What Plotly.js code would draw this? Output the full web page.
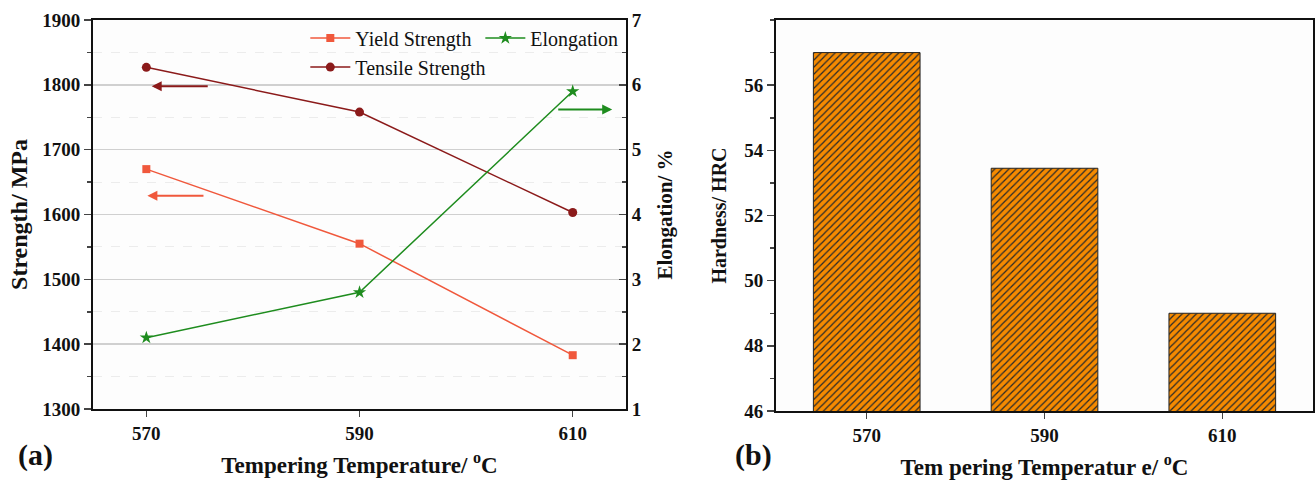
<!DOCTYPE html>
<html><head><meta charset="utf-8">
<script src="https://cdn.plot.ly/plotly-3.0.1.min.js"></script>
<style>body{margin:0;background:#fff}#c{width:1316px;height:489px}</style>
</head><body><div id="c"></div>
<script>
const temps = [570, 590, 610];
const tempLabels = ['570', '590', '610'];
const yieldStrength = [1670, 1555, 1383];
const tensileStrength = [1827, 1758, 1603];
const elongation = [2.1, 2.8, 5.9];
const hardness = [57.0, 53.45, 49.0];

const F = 'Liberation Serif, Times New Roman, serif';
const traces = [
  {x: temps, y: yieldStrength, name: 'Yield Strength', type: 'scatter', mode: 'lines+markers',
   xaxis: 'x', yaxis: 'y', line: {color: '#F0583C', width: 1.5}, marker: {symbol: 'square', size: 8, color: '#F0583C'}, legend: 'legend'},
  {x: temps, y: tensileStrength, name: 'Tensile Strength', type: 'scatter', mode: 'lines+markers',
   xaxis: 'x', yaxis: 'y', line: {color: '#8B1A1A', width: 1.5}, marker: {symbol: 'circle', size: 9, color: '#8B1A1A'}, legend: 'legend'},
  {x: temps, y: elongation, name: 'Elongation', type: 'scatter', mode: 'lines+markers',
   xaxis: 'x', yaxis: 'y2', line: {color: '#1E8C1E', width: 1.5}, marker: {symbol: 'star', size: 10, color: '#1E8C1E'}, legend: 'legend2'},
  {x: tempLabels, y: hardness, type: 'bar', xaxis: 'x3', yaxis: 'y3', width: 0.6, showlegend: false,
   marker: {color: '#F58A00', line: {color: '#222', width: 1},
     pattern: {shape: '/', fgcolor: '#2a2a2a', bgcolor: '#F58A00', size: 5, solidity: 0.25}}}
];

const tickFont = {family: F, size: 19, color: '#111', weight: 'bold'};
const tf = s => ({family: F, size: s, color: '#111', weight: 'bold'});
const b = s => '<b>' + s + '</b>';

const layout = {
  width: 1316, height: 489,
  margin: {l: 0, r: 0, t: 0, b: 0},
  paper_bgcolor: '#fff', plot_bgcolor: '#fdfdfd',
  font: {family: F},
  xaxis: {domain: [0.0707, 0.4757], range: [565, 615], tickvals: temps, ticktext: tempLabels.map(b),
    ticks: 'outside', ticklen: 6, tickwidth: 1.5, showline: true, linewidth: 2, linecolor: '#111', mirror: true,
    showgrid: false, zeroline: false, tickfont: tickFont, anchor: 'y',
    title: {text: b('Tempering Temperature/ <sup>o</sup>C'), font: tf(23), standoff: 14}},
  yaxis: {domain: [0.1636, 0.9591], range: [1300, 1900], tickvals: [1300,1400,1500,1600,1700,1800,1900],
    ticktext: ['1300','1400','1500','1600','1700','1800','1900'].map(b), ticks: 'outside', ticklen: 7, tickwidth: 1.5,
    minor: {dtick: 50, ticks: 'outside', ticklen: 4, showgrid: true, gridcolor: '#ececec', griddash: 'dash', gridwidth: 1},
    showline: true, linewidth: 2, linecolor: '#111', showgrid: true, gridcolor: '#d0d0d0', gridwidth: 1.5,
    zeroline: false, tickfont: tickFont, anchor: 'x',
    title: {text: b('Strength/ MPa'), font: tf(24), standoff: 8}},
  yaxis2: {overlaying: 'y', side: 'right', anchor: 'x', range: [1, 7], tickvals: [1,2,3,4,5,6,7],
    ticktext: ['1','2','3','4','5','6','7'].map(b), ticks: 'inside', ticklen: 7, tickwidth: 1.5,
    minor: {dtick: 0.5, ticks: 'inside', ticklen: 4}, showline: true, linewidth: 2, linecolor: '#111',
    showgrid: false, zeroline: false, tickfont: tickFont,
    title: {text: b('Elongation/ %'), font: tf(21), standoff: 16}},
  xaxis3: {domain: [0.5897, 0.9977], anchor: 'y3', type: 'category', range: [-0.51, 2.51],
    tickvals: tempLabels, ticktext: tempLabels.map(b),
    ticks: 'outside', ticklen: 6, tickwidth: 1.5, showline: true, linewidth: 2, linecolor: '#111', mirror: true,
    showgrid: false, tickfont: tickFont,
    title: {text: b('Tem pering Temperatur e/ <sup>o</sup>C'), font: tf(23), standoff: 14}},
  yaxis3: {domain: [0.1595, 0.9591], anchor: 'x3', range: [46, 58], tickvals: [46, 48, 50, 52, 54, 56],
    ticktext: ['46','48','50','52','54','56'].map(b),
    ticks: 'outside', ticklen: 7, tickwidth: 1.5, minor: {dtick: 1, ticks: 'outside', ticklen: 4},
    showline: true, linewidth: 2, linecolor: '#111', mirror: true, showgrid: false, zeroline: false,
    tickfont: tickFont, title: {text: b('Hardness/ HRC'), font: tf(20), standoff: 12}},
  legend: {x: 0.232, y: 0.962, xanchor: 'left', yanchor: 'top', bgcolor: 'rgba(0,0,0,0)',
    font: {family: F, size: 20, color: '#111'}, tracegroupgap: 0, itemwidth: 40},
  legend2: {x: 0.365, y: 0.962, xanchor: 'left', yanchor: 'top', bgcolor: 'rgba(0,0,0,0)',
    font: {family: F, size: 20, color: '#111'}, itemwidth: 40},
  annotations: [
    {x: 570.5, y: 1798, ax: 575.9, ay: 1798, xref: 'x', yref: 'y', axref: 'x', ayref: 'y', text: '',
     showarrow: true, arrowhead: 2, arrowsize: 1, arrowwidth: 2, arrowcolor: '#8B1A1A'},
    {x: 570.1, y: 1629, ax: 575.5, ay: 1629, xref: 'x', yref: 'y', axref: 'x', ayref: 'y', text: '',
     showarrow: true, arrowhead: 2, arrowsize: 1, arrowwidth: 2, arrowcolor: '#F0583C'},
    {x: 613.7, y: 5.62, ax: 608.5, ay: 5.62, xref: 'x', yref: 'y2', axref: 'x', ayref: 'y2', text: '',
     showarrow: true, arrowhead: 2, arrowsize: 1, arrowwidth: 2, arrowcolor: '#1E8C1E'},
    {x: 16 / 1316, y: 1 - 455 / 489, xref: 'paper', yref: 'paper', text: b('(a)'), showarrow: false,
     xanchor: 'left', yanchor: 'middle', font: {family: F, size: 30, color: '#111'}},
    {x: 733 / 1316, y: 1 - 455 / 489, xref: 'paper', yref: 'paper', text: b('(b)'), showarrow: false,
     xanchor: 'left', yanchor: 'middle', font: {family: F, size: 30, color: '#111'}}
  ]
};

Plotly.newPlot('c', traces, layout, {displayModeBar: false, staticPlot: true});
</script></body></html>
